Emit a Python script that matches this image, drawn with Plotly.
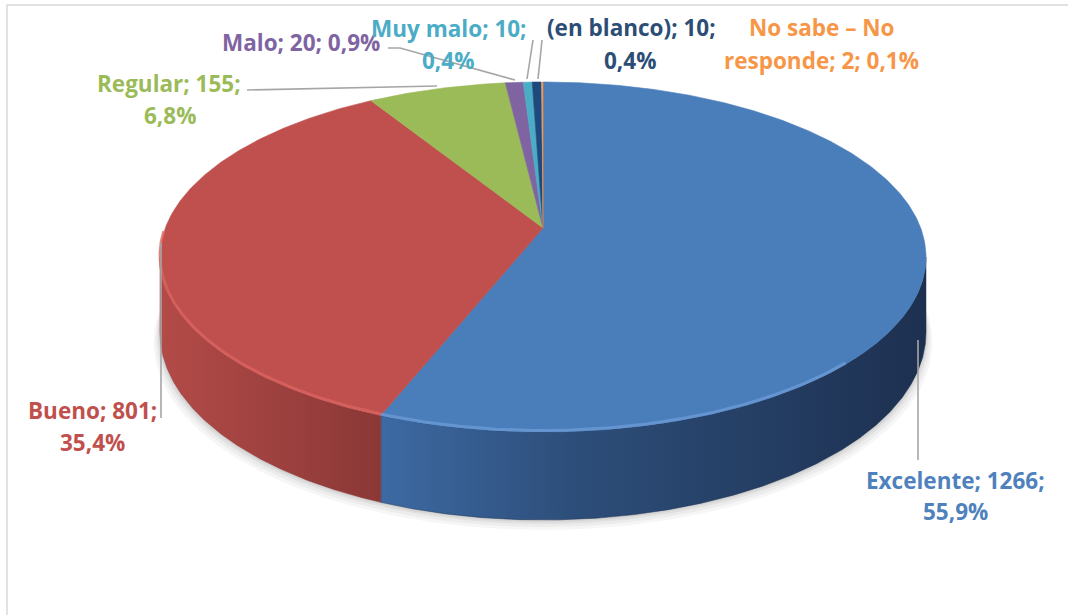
import numpy as np
import plotly.graph_objects as go

# ---------------- data ----------------
categories = ["Excelente", "Bueno", "Regular", "Malo", "Muy malo",
              "(en blanco)", "No sabe – No responde"]
values = [1266, 801, 155, 20, 10, 10, 2]

top_colors = ["#4a7ebb", "#c0504d", "#9bbb59", "#8064a2", "#4bacc6", "#1f497d", "#f79646"]
text_colors = ["#4f81bd", "#c0504d", "#9bbb59", "#8064a2", "#4bacc6", "#2c4d75", "#f79646"]
side_scales = {
    0: [[0, "#3d6aa3"], [0.35, "#2d4e7a"], [1, "#1d3050"]],
    1: [[0, "#b34b48"], [1, "#8a3836"]],
}
rim_colors = {0: "#6e9dd8", 1: "#dc6461"}
rim_start = {0: 135.0, 1: 0.0}

total = sum(values)
pcts = [f"{v / total * 100:.1f}".replace(".", ",") + "%" for v in values]

# label layout: where each label line goes and where its text breaks
label_split = ["pct", "pct", "pct", None, "pct", "pct", "responde"]
label_pos = [
    [(955, 480), (955, 511)],
    [(92, 410), (92, 442)],
    [(169, 83), (170, 115)],
    [(301, 42)],
    [(449, 28), (448, 60)],
    [(631, 27), (630, 60)],
    [(822, 27), (821, 60)],
]
leaders = [
    "M 918,340 L 918,460",
    "M 161,243 L 161,418",
    "M 247,90 L 437,86",
    "M 388,48 L 400,48 L 515,80",
    "M 533,40 L 527,79",
    "M 542,40 L 538,79",
]

# ---------------- geometry (3D look) ----------------
W, H = 1068, 615
CX, CY = 543.0, 228.0
A, B, K, D0 = 377.7, 170.2, 0.1657, 73.4


def proj(theta_deg, depth=0.0):
    t = np.radians(theta_deg)
    u = np.sin(t)
    v = -np.cos(t)
    w = 1 - K * v
    return CX + A * u / w, CY + B * v / w + depth * D0 / w


cum = np.concatenate([[0], np.cumsum(values)]) / total * 360.0
theta_r = np.degrees(np.arccos(-K))
theta_l = 360.0 - theta_r

fig = go.Figure()

# soft shadow
for off, alpha in [(10, 0.035), (7, 0.04), (4, 0.05), (2, 0.05)]:
    th = np.linspace(0, 360, 361)
    sx, sy = proj(th, 1.0)
    sx = CX + (sx - CX) * (1 + off / 600)
    fig.add_trace(go.Scatter(x=sx, y=sy + off, mode="lines", fill="toself",
                             fillcolor=f"rgba(0,0,0,{alpha})", line=dict(width=0),
                             hoverinfo="skip", showlegend=False))

# side faces
for i in range(len(values)):
    a0, a1 = cum[i], cum[i + 1]
    s, e = max(a0, theta_r), min(a1, theta_l)
    if e <= s:
        continue
    th = np.linspace(s, e, 200)
    tx, ty = proj(th, 0.0)
    bx, by = proj(th[::-1], 1.0)
    xs = np.concatenate([tx, bx, tx[:1]])
    ys = np.concatenate([ty, by, ty[:1]])
    scale = side_scales.get(i, [[0, top_colors[i]], [1, top_colors[i]]])
    fig.add_trace(go.Scatter(x=xs, y=ys, mode="lines", fill="toself",
                             fillgradient=dict(type="horizontal", colorscale=scale),
                             line=dict(width=0.5, color=scale[-1][1]),
                             hoverinfo="skip", showlegend=False))

# top faces
for i in range(len(values)):
    a0, a1 = cum[i], cum[i + 1]
    n = max(int((a1 - a0) * 2), 4)
    th = np.linspace(a0, a1, n)
    ax, ay = proj(th, 0.0)
    xs = np.concatenate([[CX], ax, [CX]])
    ys = np.concatenate([[CY], ay, [CY]])
    fig.add_trace(go.Scatter(x=xs, y=ys, mode="lines", fill="toself",
                             fillcolor=top_colors[i],
                             line=dict(width=0.6, color=top_colors[i]),
                             name=categories[i], hoverinfo="skip", showlegend=False))

# rim highlight
for i in range(len(values)):
    if i not in rim_colors:
        continue
    a0, a1 = cum[i], cum[i + 1]
    s, e = max(a0, theta_r - 8, rim_start[i]), min(a1, theta_l + 8)
    if e <= s:
        continue
    th = np.linspace(s, e, 200)
    rx, ry = proj(th, 0.0)
    fig.add_trace(go.Scatter(x=rx, y=ry - 1.5, mode="lines",
                             line=dict(width=3, color=rim_colors[i]), opacity=0.75,
                             hoverinfo="skip", showlegend=False))

# labels
annotations = []
for i, cat in enumerate(categories):
    full = f"{cat}; {values[i]}; {pcts[i]}"
    sp = label_split[i]
    if sp is None:
        lines = [full]
    else:
        key = pcts[i] if sp == "pct" else sp
        idx = full.rfind(key)
        lines = [full[:idx].rstrip(), full[idx:]]
    for line, (lx, ly) in zip(lines, label_pos[i]):
        annotations.append(dict(x=lx, y=ly, xref="x", yref="y", text=line,
                                showarrow=False, xanchor="center", yanchor="middle",
                                font=dict(family="Open Sans", size=22.5,
                                          color=text_colors[i], weight="bold")))

shapes = [dict(type="path", path=p, xref="x", yref="y",
               line=dict(color="#a6a6a6", width=1.6)) for p in leaders]
shapes.append(dict(type="rect", xref="paper", yref="paper", x0=7 / W, y0=1 - 5 / H,
                   x1=1.02, y1=-0.02, line=dict(color="#d9d9d9", width=1.5),
                   layer="below"))

fig.update_layout(
    width=W, height=H, margin=dict(l=0, r=0, t=0, b=0),
    paper_bgcolor="white", plot_bgcolor="white",
    xaxis=dict(range=[0, W], visible=False, fixedrange=True),
    yaxis=dict(range=[H, 0], visible=False, fixedrange=True),
    annotations=annotations, shapes=shapes, showlegend=False,
)

fig.write_html("out.html", config={"displayModeBar": False},
               post_script="document.body.style.margin='0px';")
